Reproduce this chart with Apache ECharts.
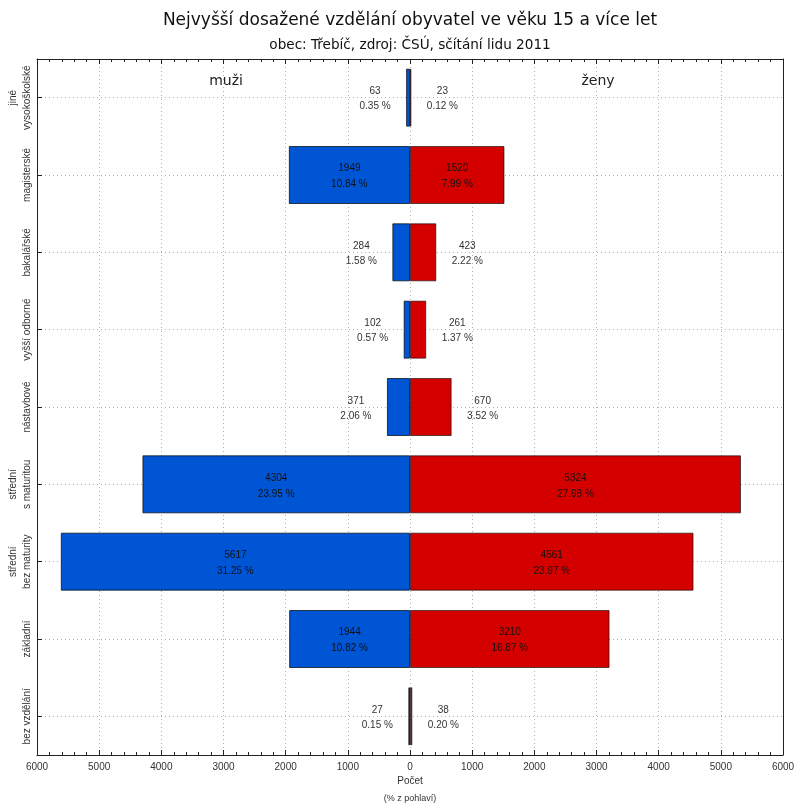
<!DOCTYPE html>
<html>
<head>
<meta charset="utf-8">
<script src="https://cdn.jsdelivr.net/npm/echarts@6/dist/echarts.min.js"></script>
<style>html,body{margin:0;padding:0;background:#fff;}#c{width:795px;height:805px;}</style>
</head>
<body>
<div id="c"></div>
<script>
const categories = ['jiné\nvysokoškolské','magisterské','bakalářské','vyšší odborné','nástavbové','střední\ns maturitou','střední\nbez maturity','základní','bez vzdělání'];
const men = [63, 1949, 284, 102, 371, 4304, 5617, 1944, 27];
const menPct = [0.35, 10.84, 1.58, 0.57, 2.06, 23.95, 31.25, 10.82, 0.15];
const women = [23, 1520, 423, 261, 670, 5324, 4561, 3210, 38];
const womenPct = [0.12, 7.99, 2.22, 1.37, 3.52, 27.98, 23.97, 16.87, 0.20];
const xTicks = [-6000, 6000, 1000];

const FONT = '"Liberation Sans", Arial, sans-serif';
const TFONT = '"DejaVu Sans", sans-serif';
const INSIDE_MIN = 1000;

function makeData(vals, pcts, sign, side) {
  return vals.map((v, i) => {
    const inside = v >= INSIDE_MIN;
    return {
      value: sign * v,
      label: inside ? {
        show: true, position: 'inside', align: 'center', verticalAlign: 'middle', offset: [0, 1.5],
        color: '#111', fontSize: 10, fontFamily: FONT, lineHeight: 16,
        formatter: v + '\n' + pcts[i].toFixed(2) + ' %'
      } : {
        show: true, position: side, distance: 31, align: 'center', verticalAlign: 'middle', offset: [0, 1.5],
        color: '#333', fontSize: 10, fontFamily: FONT, lineHeight: 15,
        formatter: v + '\n' + pcts[i].toFixed(2) + ' %'
      }
    };
  });
}

const chart = echarts.init(document.getElementById('c'), null, {renderer: 'canvas'});
const gridLine = {show: true, interval: 0, lineStyle: {color: '#b0b0b0', type: [1, 3], width: 1}};
const axisLineStyle = {color: '#222', width: 1};
chart.setOption({
  animation: false,
  backgroundColor: '#fff',
  title: [{
    text: 'Nejvyšší dosažené vzdělání obyvatel ve věku 15 a více let',
    left: 405, top: 7, textAlign: 'center',
    textStyle: {fontFamily: TFONT, fontSize: 17, fontWeight: 'normal', color: '#111'}
  }, {
    text: 'obec: Třebíč, zdroj: ČSÚ, sčítání lidu 2011',
    left: 405, top: 33, textAlign: 'center',
    textStyle: {fontFamily: TFONT, fontSize: 13.6, fontWeight: 'normal', color: '#111'}
  }, {
    text: 'muži', left: 221, top: 69, textAlign: 'center',
    textStyle: {fontFamily: TFONT, fontSize: 14, fontWeight: 'normal', color: '#222'}
  }, {
    text: 'ženy', left: 593, top: 69, textAlign: 'center',
    textStyle: {fontFamily: TFONT, fontSize: 14, fontWeight: 'normal', color: '#222'}
  }],
  grid: {left: 37, right: 12, top: 59, bottom: 50, containLabel: false, outerBoundsMode: 'none'},
  xAxis: [{
    type: 'value', position: 'bottom', min: xTicks[0], max: xTicks[1], interval: xTicks[2],
    axisLine: {show: true, onZero: false, lineStyle: axisLineStyle},
    axisTick: {show: true, inside: true, length: 5, lineStyle: axisLineStyle},
    minorTick: {show: true, splitNumber: 5, length: 3, lineStyle: axisLineStyle},
    splitLine: gridLine,
    axisLabel: {formatter: v => String(Math.abs(v)), fontSize: 10, fontFamily: FONT, color: '#333', margin: 7},
    name: '{a|Počet}\n{b|(% z pohlaví)}', nameLocation: 'middle', nameGap: 18, nameMoveOverlap: false,
    nameTextStyle: {fontSize: 10, fontFamily: FONT, color: '#333', lineHeight: 17, verticalAlign: 'top',
      rich: {a: {fontSize: 10, fontFamily: FONT, color: '#333', lineHeight: 17}, b: {fontSize: 9, fontFamily: FONT, color: '#333', lineHeight: 17}}}
  }, {
    type: 'value', position: 'top', min: xTicks[0], max: xTicks[1], interval: xTicks[2],
    axisLine: {show: true, onZero: false, lineStyle: axisLineStyle},
    axisTick: {show: true, inside: true, length: 5, lineStyle: axisLineStyle},
    minorTick: {show: true, splitNumber: 5, length: 3, lineStyle: axisLineStyle},
    splitLine: {show: false},
    axisLabel: {show: false}
  }],
  yAxis: [{
    type: 'category', data: categories, inverse: true, position: 'left',
    axisLine: {show: true, onZero: false, lineStyle: axisLineStyle},
    axisTick: {show: true, inside: true, length: 5, interval: 0, alignWithLabel: true, lineStyle: axisLineStyle},
    splitLine: Object.assign({alignWithLabel: true}, gridLine),
    axisLabel: {interval: 0, rotate: 90, fontSize: 10, fontFamily: FONT, color: '#333', margin: 3, lineHeight: 14}
  }, {
    type: 'category', data: categories, inverse: true, position: 'right',
    axisLine: {show: true, onZero: false, lineStyle: axisLineStyle},
    axisTick: {show: false}, axisLabel: {show: false}, splitLine: {show: false}
  }],
  series: [{
    name: 'muži', type: 'bar', barWidth: '75%', barGap: '-100%',
    itemStyle: {color: '#0055d4', borderColor: 'rgba(0,0,0,0.7)', borderWidth: 1},
    data: makeData(men, menPct, -1, 'left')
  }, {
    name: 'ženy', type: 'bar', barWidth: '75%', barGap: '-100%',
    itemStyle: {color: '#d40000', borderColor: 'rgba(0,0,0,0.6)', borderWidth: 1},
    data: makeData(women, womenPct, 1, 'right')
  }]
});
</script>
</body>
</html>
